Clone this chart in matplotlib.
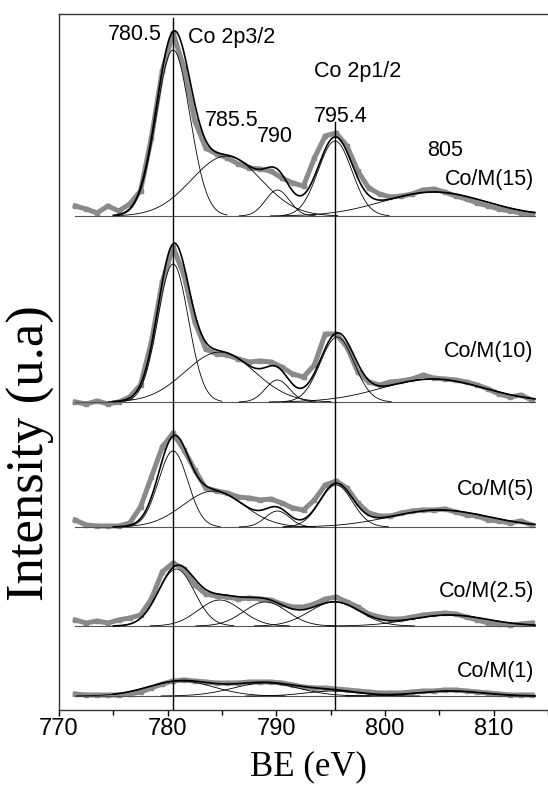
import numpy as np
import matplotlib
matplotlib.use("Agg")
import matplotlib.pyplot as plt

# ---------------- data (heights in arbitrary intensity units) ----------------
be_grid = np.arange(771.5, 814.0, 1.0)   # binding energy sample points (eV)

sample_names = ["Co/M(15)", "Co/M(10)", "Co/M(5)", "Co/M(2.5)", "Co/M(1)"]
offsets = [494, 308, 183, 84, 14]

data_15 = [10, 7, 3, 10, 5, 12, 25, 78, 145, 183, 148, 95, 68, 62, 58, 52, 48, 47,
           45, 38, 33, 30, 58, 80, 83, 70, 45, 28, 22, 19, 20, 22, 26, 27, 24, 20,
           17, 13, 10, 7, 5, 3, 2]
data_10 = [0, -2, 1, -2, 0, 5, 17, 60, 120, 155, 127, 80, 53, 48, 47, 43, 40, 41,
           40, 35, 28, 25, 37, 68, 68, 55, 30, 20, 17, 20, 21, 23, 27, 24, 23, 22,
           20, 17, 13, 8, 5, 7, 2]
data_5 = [7, 2, 1, 1, 1, 4, 20, 50, 80, 94, 77, 57, 39, 36, 34, 30, 29, 27, 28,
          24, 19, 17, 27, 42, 46, 39, 24, 14, 11, 11, 14, 16, 17, 17, 18, 15, 12,
          11, 7, 6, 4, 6, 2]
data_2_5 = [6, 3, 5, 3, 6, 8, 11, 27, 54, 63, 57, 41, 32, 30, 29, 27, 28, 27, 26,
            22, 19, 19, 22, 27, 29, 24, 19, 12, 9, 7, 7, 9, 11, 12, 13, 12, 9, 6,
            3, 2, 1, 2, 3]
data_1 = [2, 1, 1, 1, 1, 2, 4, 8, 12, 15, 16, 15, 14, 13, 13, 13, 14, 14, 14, 13,
          11, 9, 8, 8, 7, 6, 5, 4, 3, 3, 3, 4, 5, 5, 6, 6, 5, 4, 3, 2, 1, 1, 1]
spectra = [data_15, data_10, data_5, data_2_5, data_1]

# fitted components: centres (eV), heights, widths (sigma, eV)
comp_centres = [[780.5, 785.4, 790.1, 795.4, 804.5],
                [780.5, 784.8, 790.1, 795.6, 804.4],
                [780.5, 784.2, 790.1, 795.5, 805.0],
                [780.8, 784.8, 789.0, 795.35, 805.9],
                [781.2, 789.0, 795.2, 806.0]]
comp_heights = [[166, 60, 26, 75, 24],
                [138, 50, 22, 65, 23],
                [76, 36, 16, 42, 17],
                [57, 26, 24, 24, 11],
                [15, 13, 5, 5]]
comp_sigmas = [[1.55, 3.2, 1.1, 1.55, 4.7],
               [1.4, 3.2, 1.1, 1.55, 4.7],
               [1.35, 2.8, 1.1, 1.5, 4.5],
               [1.65, 2.0, 2.0, 2.3, 3.5],
               [3.0, 3.0, 2.5, 3.0]]

peak_lines = [780.5, 795.4]
peak_line_tops = [692, 588]

xticks_major = [770, 780, 790, 800, 810]
xticks_minor = [775, 785, 795, 805, 815]

# annotations: (text, x eV, y)
annotations = [("780.5", 777.0, 675), ("Co 2p3/2", 785.9, 673),
               ("785.5", 785.85, 589), ("790", 789.9, 573),
               ("Co 2p1/2", 797.5, 638), ("795.4", 795.9, 593),
               ("805", 805.5, 560)]
label_y = [531, 359, 220, 118, 38]

# ---------------- figure ----------------
W, H = 548, 791
fig = plt.figure(figsize=(W / 100, H / 100), dpi=100)
ax = fig.add_axes([59 / W, (H - 710) / H, 1 - 59 / W, (710 - 14) / H])

x_lo, x_hi = 771.5, 813.8
grey = "#8a8a8a"


def gauss(x, c, h, s):
    return h * np.exp(-(x - c) ** 2 / (2 * s ** 2))


for k in range(len(sample_names)):
    off = offsets[k]
    # baseline
    ax.plot([x_lo, x_hi], [off, off], color="#555555", lw=0.8, zorder=2)
    # experimental data
    ax.plot(be_grid, np.array(spectra[k]) + off, color=grey, lw=3.6,
            marker="s", ms=3.4, mec=grey, mfc=grey, solid_joinstyle="round",
            zorder=1)
    # components
    xe = np.linspace(775.0, x_hi, 600)
    env = np.zeros_like(xe)
    for c, h, s in zip(comp_centres[k], comp_heights[k], comp_sigmas[k]):
        xc = np.linspace(max(x_lo, c - 3.2 * s), min(x_hi, c + 3.2 * s), 300)
        ax.plot(xc, gauss(xc, c, h, s) + off, color="black", lw=0.6, zorder=3)
        env += gauss(xe, c, h, s)
    ax.plot(xe, env + off, color="black", lw=1.2, zorder=4)
    ax.text(813.7, label_y[k], sample_names[k], ha="right", va="center",
            fontsize=15.5, family="Liberation Sans", zorder=5)

for xv, top in zip(peak_lines, peak_line_tops):
    ax.plot([xv, xv], [0, top], color="black", lw=1.0, zorder=4)

for txt, xv, yv in annotations:
    ax.text(xv, yv, txt, ha="center", va="center", fontsize=15.5,
            family="Liberation Sans", zorder=5)

ax.set_xlim(770, 814)
ax.set_ylim(0, 696)
ax.set_xticks(xticks_major)
ax.set_xticks(xticks_minor, minor=True)
ax.set_xticklabels([str(v) for v in xticks_major], fontsize=17,
                   family="Liberation Sans")
ax.set_yticks([])
ax.tick_params(axis="x", which="major", direction="out", length=4.5,
               width=1.0, pad=1)
ax.tick_params(axis="x", which="minor", direction="out", length=3.5,
               width=1.0)
ax.spines["right"].set_visible(False)
for sp in ["left", "bottom", "top"]:
    ax.spines[sp].set_linewidth(1.0)
    ax.spines[sp].set_color("#333333")

fig.text(31 / W, (H - 453) / H, "Intensity (u.a)", rotation=90,
         ha="center", va="center", fontsize=38, family="Liberation Serif")
fig.text(308 / W, (H - 767) / H, "BE (eV)", ha="center", va="center",
         fontsize=25, family="Liberation Serif")

fig.savefig("out.png", dpi=100)
